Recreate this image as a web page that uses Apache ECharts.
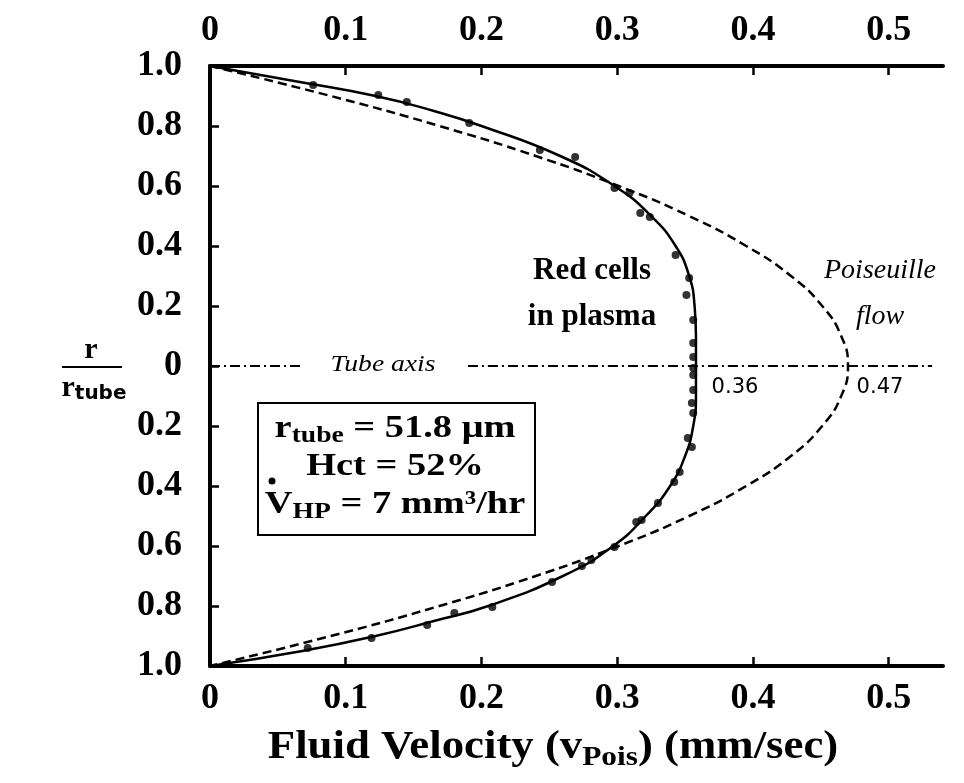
<!DOCTYPE html>
<html>
<head>
<meta charset="utf-8">
<script src="https://cdn.jsdelivr.net/npm/echarts@6/dist/echarts.min.js"></script>
<style>
html, body { margin: 0; padding: 0; background: #fff; }
#main { width: 964px; height: 783px; }
</style>
</head>
<body>
<div id="main"></div>
<script>
// tick labels
var xTicks = [0, 0.1, 0.2, 0.3, 0.4, 0.5];
var yTicks = [-1, -0.8, -0.6, -0.4, -0.2, 0, 0.2, 0.4, 0.6, 0.8, 1];

// measured red cell velocities (dots) : velocity, r/rtube
var dotV = [0.076, 0.124, 0.145, 0.191, 0.243, 0.269, 0.298, 0.309, 0.317, 0.324, 0.343, 0.353, 0.351, 0.356, 0.356, 0.356,
    0.356, 0.356, 0.356, 0.355, 0.356, 0.352, 0.355, 0.346, 0.342, 0.330, 0.318, 0.314, 0.298, 0.281, 0.274, 0.252,
    0.208, 0.180, 0.160, 0.119, 0.072];
var dotR = [0.937, 0.903, 0.880, 0.810, 0.720, 0.697, 0.593, 0.577, 0.510, 0.497, 0.370, 0.293, 0.237, 0.153, 0.077, 0.030,
    -0.007, -0.030, -0.080, -0.123, -0.157, -0.240, -0.270, -0.353, -0.387, -0.457, -0.513, -0.520, -0.603, -0.647, -0.667, -0.720,
    -0.803, -0.823, -0.863, -0.907, -0.940];

// fitted red cell profile (solid)
var cellR = [1, 0.95, 0.9, 0.85, 0.8, 0.7, 0.6, 0.5, 0.4, 0.3, 0.2, 0.1, 0, -0.1, -0.2, -0.3, -0.4, -0.5, -0.6, -0.7, -0.8, -0.85, -0.9, -0.95, -1];
var cellV = [0, 0.062, 0.122, 0.165, 0.200, 0.258, 0.298, 0.325, 0.343, 0.353, 0.357, 0.358, 0.358, 0.358, 0.356, 0.350, 0.339, 0.321, 0.297, 0.260, 0.205, 0.165, 0.122, 0.068, 0];

// Poiseuille profile (dashed)
var poisR = [1, 0.9, 0.8, 0.7, 0.6, 0.5, 0.4, 0.3, 0.2, 0.1, 0, -0.1, -0.2, -0.3, -0.4, -0.5, -0.6, -0.7, -0.8, -0.9, -1];
var poisV = [0, 0.089, 0.169, 0.240, 0.301, 0.353, 0.395, 0.428, 0.451, 0.465, 0.470, 0.465, 0.451, 0.428, 0.395, 0.353, 0.301, 0.240, 0.169, 0.089, 0];

// tube axis pieces (gap for the label)
var axisLeftV = [0, 0.068];
var axisRightV = [0.19, 0.532];

function pairs(a, b) {
    var out = [];
    for (var i = 0; i < a.length; i++) out.push([a[i], b[i]]);
    return out;
}

var serif = '"Liberation Serif", "DejaVu Serif", serif';
var black = '#000';

function xAxisOf(pos, margin) {
    return {
        type: 'value',
        position: pos,
        min: 0,
        max: 0.54,
        interval: 0.1,
        axisLine: { onZero: false, lineStyle: { color: black, width: 4 } },
        axisTick: { inside: true, length: 9, customValues: xTicks, lineStyle: { color: black, width: 2.5 } },
        axisLabel: {
            customValues: xTicks,
            margin: margin,
            color: black,
            fontFamily: serif,
            fontWeight: 'bold',
            fontSize: 36,
            formatter: function(v) { return v === 0 ? '0' : String(v); }
        },
        splitLine: { show: false }
    };
}

var chart = echarts.init(document.getElementById('main'));
chart.setOption({
    animation: false,
    backgroundColor: '#fff',
    grid: { left: 210, right: 21, top: 66, bottom: 117 },
    xAxis: [xAxisOf('bottom', 15), xAxisOf('top', 17)],
    yAxis: {
        type: 'value',
        min: -1,
        max: 1,
        interval: 0.2,
        axisLine: { onZero: false, lineStyle: { color: black, width: 4 } },
        axisTick: { inside: true, length: 9, customValues: yTicks, lineStyle: { color: black, width: 2.5 } },
        axisLabel: {
            customValues: yTicks,
            margin: 28,
            color: black,
            fontFamily: serif,
            fontWeight: 'bold',
            fontSize: 36,
            formatter: function(v) { return Math.abs(v) < 1e-9 ? '0' : Math.abs(v).toFixed(1); }
        },
        splitLine: { show: false }
    },
    series: [{
        name: 'Poiseuille flow',
        type: 'line',
        smooth: true,
        showSymbol: false,
        data: pairs(poisV, poisR),
        lineStyle: { color: black, width: 2.5, type: [9, 5] }
    }, {
        name: 'Red cells in plasma',
        type: 'line',
        smooth: true,
        showSymbol: false,
        data: pairs(cellV, cellR),
        lineStyle: { color: black, width: 2.5 }
    }, {
        name: 'dots',
        type: 'scatter',
        symbolSize: 8,
        data: pairs(dotV, dotR),
        itemStyle: { color: black }
    }, {
        name: 'axis1',
        type: 'line',
        showSymbol: false,
        data: pairs(axisLeftV, [0, 0]),
        lineStyle: { color: black, width: 2, type: [10, 4, 2, 4] }
    }, {
        name: 'axis2',
        type: 'line',
        showSymbol: false,
        data: pairs(axisRightV, [0, 0]),
        lineStyle: { color: black, width: 2, type: [10, 4, 2, 4] }
    }],
    graphic: [
        // y axis title
        { type: 'text', x: 91, y: 350, style: { text: 'r', align: 'center', verticalAlign: 'middle', font: 'bold 30px ' + serif, fill: black } },
        { type: 'line', shape: { x1: 62, y1: 367, x2: 122, y2: 367 }, style: { stroke: black, lineWidth: 2 } },
        { type: 'text', x: 94, y: 388, style: {
            text: '{a|r}{s|tube}', align: 'center', verticalAlign: 'middle',
            rich: {
                a: { font: 'bold 30px ' + serif, fill: black, lineHeight: 32 },
                s: { font: 'bold 20px "DejaVu Sans", sans-serif', fill: black, lineHeight: 20, verticalAlign: 'bottom' }
            }
        } },
        // x axis title
        { type: 'text', x: 553, y: 748, scaleX: 1.12, style: {
            text: '{a|Fluid Velocity (v}{s|Pois}{a|) (mm/sec)}',
            align: 'center', verticalAlign: 'middle',
            rich: {
                a: { font: 'bold 40px ' + serif, fill: black, lineHeight: 48 },
                s: { font: 'bold 28px ' + serif, fill: black, lineHeight: 28, verticalAlign: 'bottom' }
            }
        } },
        // curve labels
        { type: 'text', x: 592, y: 294, style: {
            text: 'Red cells\nin plasma', align: 'center', verticalAlign: 'middle',
            font: 'bold 31px ' + serif, lineHeight: 46, fill: black
        } },
        { type: 'text', x: 880, y: 294, style: {
            text: 'Poiseuille\nflow', align: 'center', verticalAlign: 'middle',
            font: 'italic 28px ' + serif, lineHeight: 46, fill: black
        } },
        { type: 'text', x: 383, y: 365, scaleX: 1.2, style: {
            text: 'Tube axis', align: 'center', verticalAlign: 'middle',
            font: 'italic 23px ' + serif, fill: black
        } },
        { type: 'text', x: 735, y: 388, style: {
            text: '0.36', align: 'center', verticalAlign: 'middle',
            font: '21px "DejaVu Sans", sans-serif', fill: black
        } },
        { type: 'text', x: 880, y: 388, style: {
            text: '0.47', align: 'center', verticalAlign: 'middle',
            font: '21px "DejaVu Sans", sans-serif', fill: black
        } },
        // parameter box
        { type: 'rect', shape: { x: 258, y: 403, width: 277, height: 132 }, style: { fill: '#fff', stroke: black, lineWidth: 2 } },
        { type: 'text', x: 395, y: 467, scaleX: 1.2, style: {
            text: '{a|r}{s|tube}{a| = 51.8 μm}\n{a|Hct = 52%}\n{a|V}{s|HP}{a| = 7 mm³/hr}',
            align: 'center', verticalAlign: 'middle',
            rich: {
                a: { font: 'bold 32px ' + serif, fill: black, lineHeight: 38 },
                s: { font: 'bold 23px ' + serif, fill: black, lineHeight: 22, verticalAlign: 'bottom' }
            }
        } },
        { type: 'circle', shape: { cx: 272, cy: 481, r: 3.5 }, style: { fill: black } }
    ]
});
</script>
</body>
</html>
